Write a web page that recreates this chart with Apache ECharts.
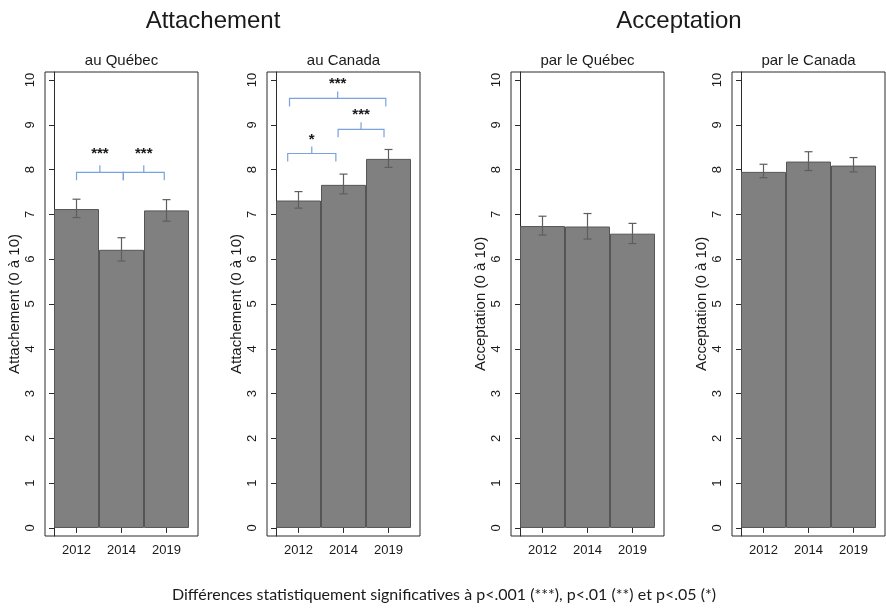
<!DOCTYPE html>
<html>
<head>
<meta charset="utf-8">
<script src="https://cdn.jsdelivr.net/npm/echarts@6/dist/echarts.min.js"></script>
<style>
  html, body { margin: 0; padding: 0; background: #ffffff; }
  #chart { width: 886px; height: 611px; }
</style>
</head>
<body>
<div id="chart"></div>
<script>
// Survey years shown under every panel
const years = ['2012', '2014', '2019'];

// Attachement au Québec (mean and 95% CI)
const attQuebec = [7.12, 6.21, 7.09];
const attQuebecLow = [6.93, 5.96, 6.85];
const attQuebecHigh = [7.34, 6.48, 7.33];

// Attachement au Canada
const attCanada = [7.31, 7.66, 8.24];
const attCanadaLow = [7.14, 7.46, 8.05];
const attCanadaHigh = [7.51, 7.90, 8.45];

// Acceptation par le Québec
const accQuebec = [6.74, 6.73, 6.57];
const accQuebecLow = [6.54, 6.45, 6.35];
const accQuebecHigh = [6.96, 7.02, 6.80];

// Acceptation par le Canada
const accCanada = [7.95, 8.18, 8.09];
const accCanadaLow = [7.82, 7.98, 7.95];
const accCanadaHigh = [8.12, 8.40, 8.27];

// Significance brackets: [from, to, bracket level, star level] on the panel axes
const sigQuebecAtt = [[0.5, 1.54, 7.94, 8.41], [1.54, 2.45, 7.94, 8.41]];
const sigQuebecAttStars = ['***', '***'];
const sigCanadaAtt = [[0.26, 1.33, 8.36, 8.73], [1.38, 2.4, 8.90, 9.28], [0.3, 2.44, 9.59, 9.98]];
const sigCanadaAttStars = ['*', '***', '***'];

const yTicks = [0, 1, 2, 3, 4, 5, 6, 7, 8, 9, 10];

const FONT = "'Liberation Sans', Arial, Helvetica, sans-serif";

const panels = [
  { sub: 'au Québec', name: 'Attachement (0 à 10)', left: 45, mean: attQuebec, low: attQuebecLow, high: attQuebecHigh, sig: sigQuebecAtt, stars: sigQuebecAttStars },
  { sub: 'au Canada', name: 'Attachement (0 à 10)', left: 267, mean: attCanada, low: attCanadaLow, high: attCanadaHigh, sig: sigCanadaAtt, stars: sigCanadaAttStars },
  { sub: 'par le Québec', name: 'Acceptation (0 à 10)', left: 511, mean: accQuebec, low: accQuebecLow, high: accQuebecHigh, sig: [], stars: [] },
  { sub: 'par le Canada', name: 'Acceptation (0 à 10)', left: 732, mean: accCanada, low: accCanadaLow, high: accCanadaHigh, sig: [], stars: [] }
];

const GRID_TOP = 72, GRID_H = 464, GRID_W = 153;
const barPos = years.map((_, i) => i + 0.5);

const grids = [], xAxes = [], yAxes = [], series = [], graphics = [];

panels.forEach((p, k) => {
  grids.push({
    left: p.left, top: GRID_TOP, width: GRID_W, height: GRID_H,
    show: true, borderColor: '#2b2b2b', borderWidth: 1, backgroundColor: '#ffffff'
  });
  xAxes.push({
    gridIndex: k, type: 'value', min: -0.2, max: 3.2,
    splitLine: { show: false },
    axisLine: { show: false },
    axisTick: { show: true, length: 5, customValues: barPos, lineStyle: { color: '#2b2b2b' } },
    axisLabel: {
      customValues: barPos, margin: 8, color: '#1a1a1a', fontFamily: FONT, fontSize: 13,
      formatter: v => years[Math.round(v - 0.5)]
    }
  });
  yAxes.push({
    gridIndex: k, type: 'value', min: -0.18, max: 10.18,
    name: p.name, nameLocation: 'middle', nameGap: 23, nameRotate: 90,
    nameTextStyle: { color: '#1a1a1a', fontFamily: FONT, fontSize: 15 },
    splitLine: { show: false },
    axisLine: { show: true, lineStyle: { color: '#2b2b2b' } },
    axisTick: { show: true, length: 5, customValues: yTicks, lineStyle: { color: '#2b2b2b' } },
    axisLabel: { customValues: yTicks, rotate: 90, margin: 8, color: '#1a1a1a', fontFamily: FONT, fontSize: 13 }
  });

  series.push({
    type: 'bar', xAxisIndex: k, yAxisIndex: k,
    barWidth: '100%',
    data: p.mean.map((v, i) => [barPos[i], v]),
    itemStyle: { color: '#808080', borderColor: '#555555', borderWidth: 1 },
    z: 2, silent: true, animation: false
  });

  // 95% confidence intervals
  series.push({
    type: 'custom', xAxisIndex: k, yAxisIndex: k,
    data: p.mean.map((v, i) => [barPos[i], p.low[i], p.high[i]]),
    encode: { x: 0, y: [1, 2] },
    renderItem: (params, api) => {
      const lo = api.coord([api.value(0), api.value(1)]);
      const hi = api.coord([api.value(0), api.value(2)]);
      const st = { stroke: '#5e5e5e', lineWidth: 1.2 };
      return {
        type: 'group',
        children: [
          { type: 'line', shape: { x1: lo[0], y1: lo[1], x2: hi[0], y2: hi[1] }, style: st },
          { type: 'line', shape: { x1: hi[0] - 4, y1: hi[1], x2: hi[0] + 4, y2: hi[1] }, style: st },
          { type: 'line', shape: { x1: lo[0] - 4, y1: lo[1], x2: lo[0] + 4, y2: lo[1] }, style: st }
        ]
      };
    },
    z: 5, silent: true, animation: false
  });

  if (p.sig.length) {
    const stars = p.stars;
    series.push({
      type: 'custom', xAxisIndex: k, yAxisIndex: k,
      data: p.sig,
      encode: { x: [0, 1], y: [2, 3] },
      renderItem: (params, api) => {
        const a = api.coord([api.value(0), api.value(2)]);
        const b = api.coord([api.value(1), api.value(2)]);
        const s = api.coord([api.value(0), api.value(3)]);
        const mid = (a[0] + b[0]) / 2;
        const y = a[1];
        return {
          type: 'group',
          children: [
            {
              type: 'polyline',
              shape: { points: [[a[0], y + 8], [a[0], y], [mid, y], [mid, y - 7], [mid, y], [b[0], y], [b[0], y + 8]] },
              style: { stroke: '#7aa2dc', lineWidth: 1.2, fill: null }
            },
            {
              type: 'text',
              style: {
                x: mid, y: s[1] + 3, text: stars[params.dataIndex],
                align: 'center', verticalAlign: 'middle',
                fill: '#1a1a1a', font: 'bold 15px ' + FONT
              }
            }
          ]
        };
      },
      z: 5, silent: true, animation: false
    });
  }

  graphics.push({
    type: 'text', x: p.left + GRID_W / 2, y: 61,
    style: { text: p.sub, fill: '#1a1a1a', font: '15px ' + FONT, align: 'center', verticalAlign: 'middle' }
  });
});

graphics.push(
  { type: 'text', x: 213, y: 21, style: { text: 'Attachement', fill: '#1a1a1a', font: '24px ' + FONT, align: 'center', verticalAlign: 'middle' } },
  { type: 'text', x: 679, y: 21, style: { text: 'Acceptation', fill: '#1a1a1a', font: '24px ' + FONT, align: 'center', verticalAlign: 'middle' } },
  { type: 'text', x: 444, y: 595, style: { text: 'Différences statistiquement significatives à p<.001 (***), p<.01 (**) et p<.05 (*)', fill: '#1a1a1a', font: "16px Lato, 'Open Sans', sans-serif", align: 'center', verticalAlign: 'middle' } }
);

const chart = echarts.init(document.getElementById('chart'), null, { renderer: 'canvas' });
chart.setOption({
  backgroundColor: '#ffffff',
  animation: false,
  grid: grids,
  xAxis: xAxes,
  yAxis: yAxes,
  series: series,
  graphic: graphics
});
</script>
</body>
</html>
